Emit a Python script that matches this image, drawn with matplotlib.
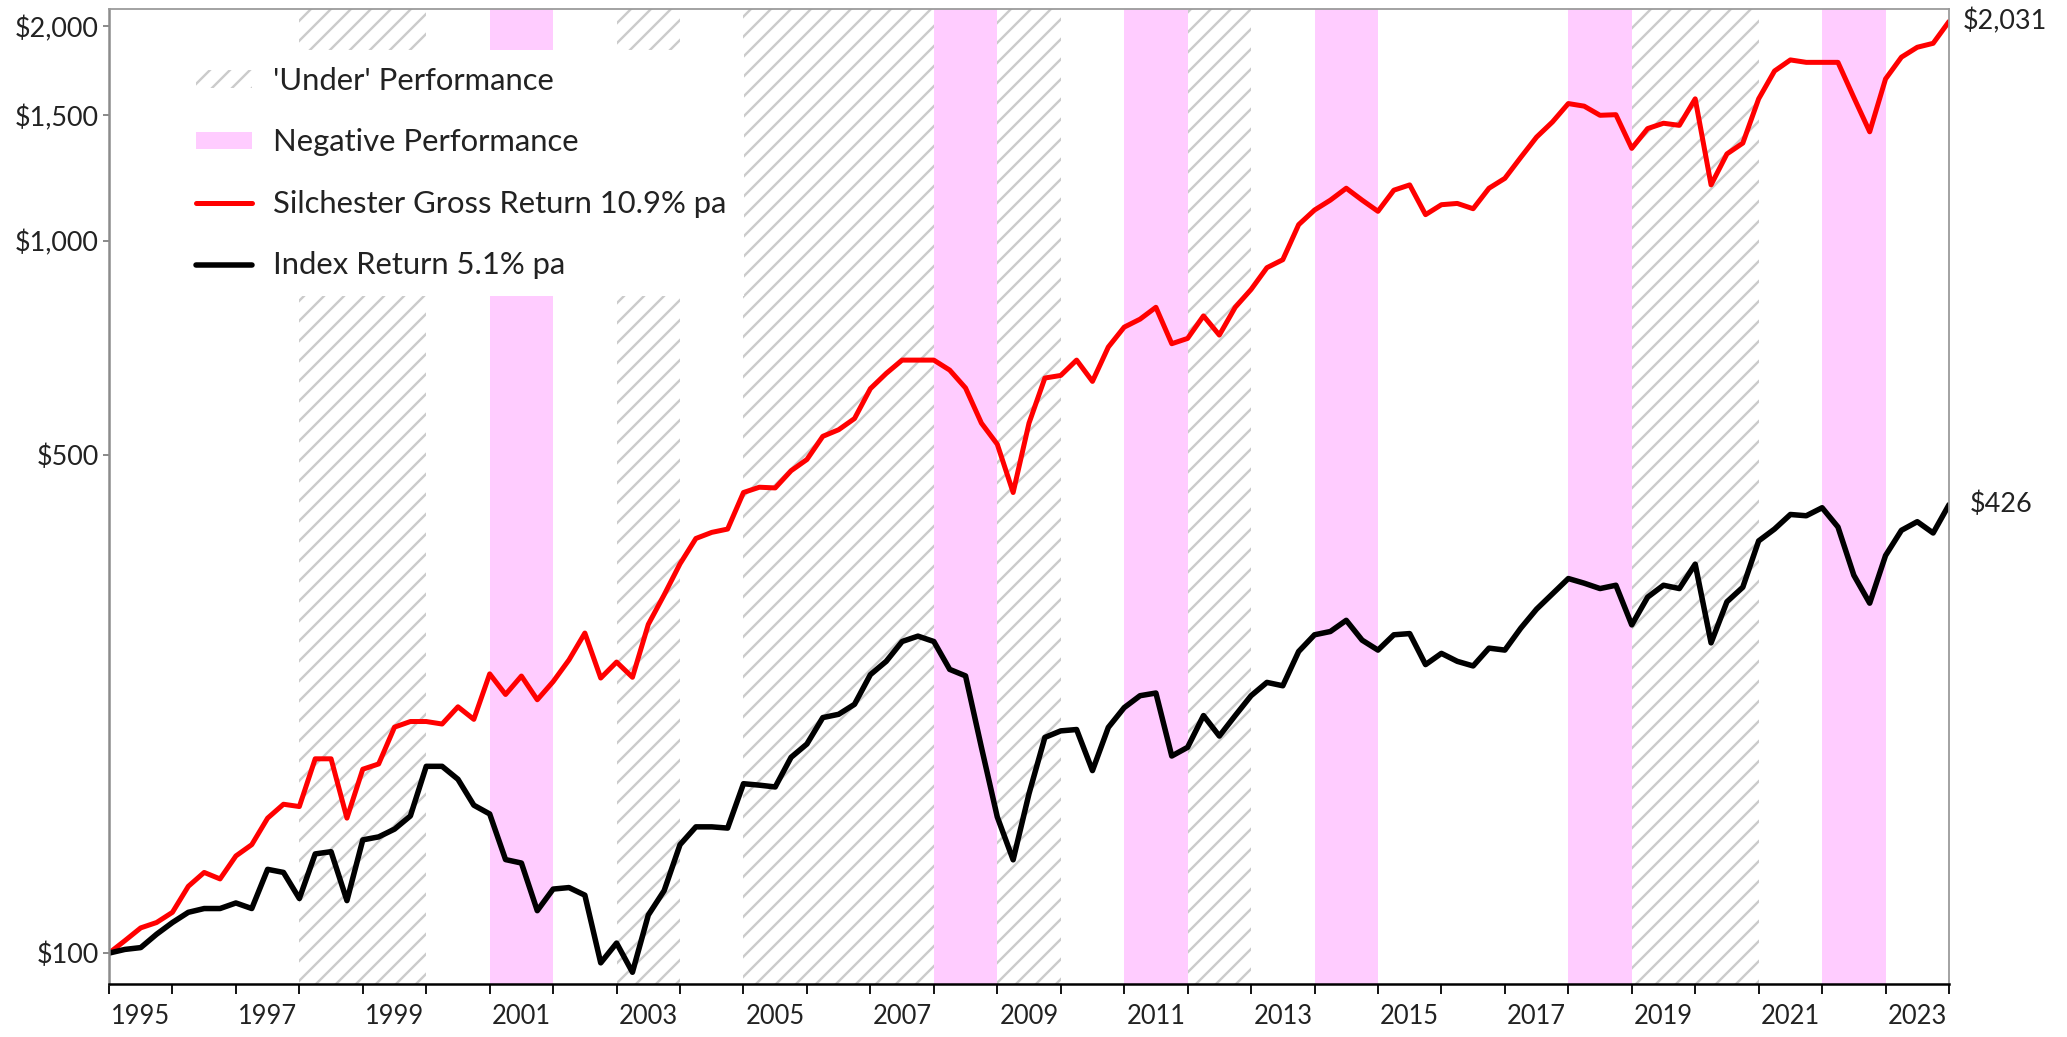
import numpy as np
import matplotlib
matplotlib.use("Agg")
import matplotlib.pyplot as plt
from matplotlib.ticker import FixedLocator, NullLocator, NullFormatter, FixedFormatter

# ---------------- data ----------------
start_year = 1995          # axis position of the first (end-1994) observation
silchester = [
    100, 104.1, 108.5, 110.4, 114.1, 124.1, 129.8, 127.1, 136.9, 142.0,
    154.7, 161.8, 160.6, 187.4, 187.4, 154.7, 181.2, 184.3, 207.6, 211.4,
    211.4, 209.7, 221.7, 212.9, 246.6, 230.7, 244.9, 226.8, 240.5, 258.0,
    281.4, 243.3, 256.2, 243.9, 289.4, 318.4, 352, 382, 389.6, 393.8,
    443.2, 450.8, 449.8, 475.5, 493.1, 531.4, 542.9, 562.9, 620.0, 651.3,
    679.9, 679.9, 679.9, 658.3, 621.3, 554.6, 518.0, 443.2, 554.6, 641.6,
    647.0, 679.9, 634.7, 709.2, 756.3, 776.1, 806.5, 716.9, 729.3, 784.4,
    737.2, 806.5, 854.3, 916.6, 940.6, 1053.4, 1104.3, 1140.3, 1185.0, 1140.3,
    1099.8, 1177.5, 1197.8, 1088, 1123.5, 1128.2, 1109, 1185, 1223.5, 1309,
    1398, 1468, 1558, 1545, 1500, 1503, 1348, 1437, 1462, 1452,
    1582, 1198, 1324, 1371, 1582, 1731, 1794, 1780, 1780, 1780,
    1589, 1422, 1687, 1810, 1869, 1893, 2031,
]
index_ret = [
    100, 101.2, 101.8, 106.3, 110.4, 114.1, 115.5, 115.5, 117.6, 115.5,
    131.1, 129.8, 119.3, 137.8, 138.8, 118.5, 144.2, 145.6, 149.3, 155.8,
    182.9, 182.9, 175.4, 161.3, 156.8, 135.3, 133.8, 114.7, 123.0, 123.6,
    120.6, 96.9, 103.3, 94.0, 113.1, 122.4, 142, 150.4, 150.4, 149.8,
    172.9, 172.1, 171.1, 188.3, 196.6, 214.1, 216.4, 223.5, 246.0, 256.8,
    273.8, 278.6, 273.8, 250.2, 245.0, 194.5, 155.3, 135.2, 167.4, 200.8,
    205.1, 206.0, 180.4, 207.4, 221.1, 229.8, 231.8, 189.1, 194.5, 215.5,
    201.7, 215.5, 229.8, 239.9, 237.3, 265.1, 279.8, 282.8, 293.2, 275.0,
    266.3, 279.8, 280.9, 254.1, 263.5, 256.8, 253.0, 268.0, 266.3, 285.8,
    304, 319.4, 335.6, 330.6, 324.9, 328.4, 288.9, 316.0, 328.4, 324.9,
    351.6, 272.6, 311.3, 326.3, 379.0, 393.8, 412.8, 411.1, 421.9, 396.4,
    339.2, 309.9, 361.5, 392.2, 403.3, 388.8, 426,
]
under_years = [1998, 1999, 2003, 2005, 2006, 2007, 2009, 2012, 2019, 2020]
negative_years = [2001, 2008, 2011, 2014, 2018, 2022]
year_labels = [str(y) for y in range(1995, 2024, 2)]
ytick_values = [100, 500, 1000, 1500, 2000]
ytick_labels = ["$100", "$500", "$1,000", "$1,500", "$2,000"]
end_labels = ["$2,031", "$426"]
legend_labels = ["'Under' Performance", "Negative Performance",
                 "Silchester Gross Return 10.9% pa", "Index Return 5.1% pa"]

# ---------------- style ----------------
DPI = 120
W, H = 2067, 1037
def px(v):
    return v * 72.0 / DPI

plt.rcParams['font.family'] = ['Lato', 'DejaVu Sans']
plt.rcParams['hatch.linewidth'] = px(2.4)

fig = plt.figure(figsize=(W / DPI, H / DPI), dpi=DPI)
L, R, T, B = 109, 1949, 9, 984
ax = fig.add_axes([L / W, 1 - B / H, (R - L) / W, (B - T) / H])

x = start_year + 0.25 * np.arange(len(silchester))

h_under = None
for i, yr in enumerate(under_years):
    p = ax.axvspan(yr, yr + 1, facecolor='white', edgecolor='#cbcbcb', hatch='//',
                   linewidth=0, zorder=1)
    if i == 0:
        h_under = p
h_neg = None
for i, yr in enumerate(negative_years):
    p = ax.axvspan(yr, yr + 1, facecolor='#ffccff', edgecolor='none', linewidth=0, zorder=1)
    if i == 0:
        h_neg = p

l_red, = ax.plot(x, silchester, color='#ff0000', lw=px(5), zorder=3,
                 solid_joinstyle='round', solid_capstyle='round')
l_blk, = ax.plot(x, index_ret, color='#000000', lw=px(5.5), zorder=3,
                 solid_joinstyle='round', solid_capstyle='round')

ax.set_yscale('log')
ax.set_ylim(90.5, 2115)
ax.set_xlim(start_year, x[-1])

ax.yaxis.set_major_locator(FixedLocator(ytick_values))
ax.yaxis.set_major_formatter(FixedFormatter(ytick_labels))
ax.yaxis.set_minor_locator(NullLocator())

ax.xaxis.set_major_locator(FixedLocator(list(range(1995, 2025))))
ax.xaxis.set_major_formatter(NullFormatter())
ax.xaxis.set_minor_locator(FixedLocator([int(s) + 0.5 for s in year_labels]))
ax.xaxis.set_minor_formatter(FixedFormatter(year_labels))

txt = '#222222'
ax.tick_params(axis='x', which='major', length=px(10), width=px(1.8), color='black',
               direction='out')
ax.tick_params(axis='x', which='minor', length=0, pad=px(20), labelsize=px(25.5),
               labelcolor=txt)
ax.tick_params(axis='y', which='major', length=px(6), width=px(1.5), color='#666666',
               direction='out', pad=px(4), labelsize=px(27), labelcolor=txt)

for side in ['top', 'right']:
    ax.spines[side].set_color('#9a9a9a')
    ax.spines[side].set_linewidth(px(1.8))
ax.spines['left'].set_color('#8c8c8c')
ax.spines['left'].set_linewidth(px(2.5))
ax.spines['bottom'].set_color('#000000')
ax.spines['bottom'].set_linewidth(px(2.5))
for s in ax.spines.values():
    s.set_zorder(4)

ax.annotate(end_labels[0], xy=(x[-1], silchester[-1]), xytext=(14, 0),
            textcoords='offset pixels', ha='left', va='center', fontsize=px(27),
            color=txt, annotation_clip=False)
ax.annotate(end_labels[1], xy=(x[-1], index_ret[-1]), xytext=(21, 0),
            textcoords='offset pixels', ha='left', va='center', fontsize=px(27),
            color=txt, annotation_clip=False)

leg = ax.legend([h_under, h_neg, l_red, l_blk], legend_labels,
                loc='upper left', bbox_to_anchor=(0.0380, 0.958),
                frameon=True, facecolor='white', edgecolor='none', framealpha=1,
                fancybox=False, fontsize=px(31), borderpad=0.55, labelspacing=1.08,
                handlelength=1.8, handleheight=0.5, handletextpad=0.7,
                borderaxespad=0)
for t in leg.get_texts():
    t.set_color(txt)
leg.set_zorder(5)

fig.savefig('out.png', dpi=DPI, facecolor='white')
